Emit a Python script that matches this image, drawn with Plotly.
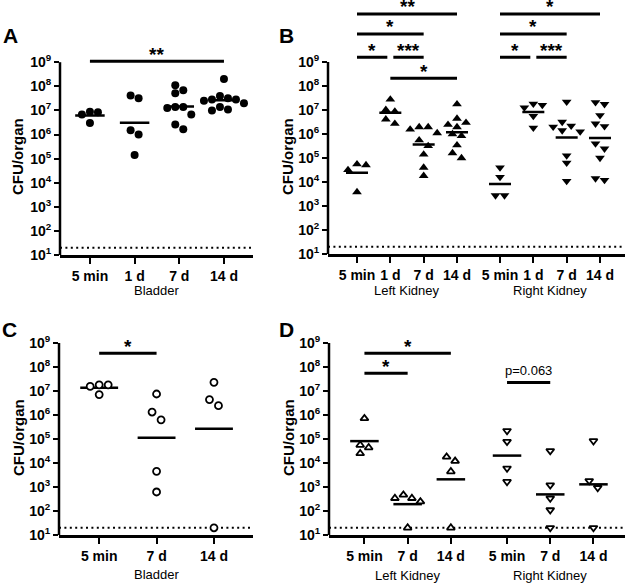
import numpy as np
import plotly.graph_objects as go

# ------------------------------------------------------------------ data
bladder_cats_AB = ["5 min", "1 d", "7 d", "14 d"]
bladder_cats_C = ["5 min", "7 d", "14 d"]
kidney_cats_B = ["5 min", "1 d", "7 d", "14 d", "5 min", "1 d", "7 d", "14 d"]
kidney_cats_D = ["5 min", "7 d", "14 d", "5 min", "7 d", "14 d"]
ytick_powers = [1, 2, 3, 4, 5, 6, 7, 8, 9]
DETECTION_LIMIT = 20

# Panel A – bladder (CFU/organ)
A_5min = [8.7e6, 6.8e6, 8.3e6, 3.0e6]
A_1d = [4.2e7, 3.2e7, 1.5e6, 1.0e6, 1.4e5]
A_7d = [1.1e8, 6.9e7, 5.1e7, 1.26e7, 1.4e7, 1.4e7, 6.8e6, 2.6e6, 1.66e6]
A_14d = [2.0e8, 4.0e7, 2.5e7, 2.8e7, 3.2e7, 2.8e7, 2.0e7, 1.0e7, 1.1e7, 1.4e7]

# Panel B – kidneys
B_LK_5min = [5.5e4, 3.2e4, 5.1e4, 3.8e3]
B_LK_1d = [2.75e7, 8.7e6, 1.02e7, 2.7e6, 4.1e6]
B_LK_7d = [1.95e6, 1.95e6, 1.55e6, 1.1e6, 5.5e5, 3.2e5, 1.4e5, 4.0e4, 1.8e4]
B_LK_14d = [1.74e7, 2.45e6, 4.4e6, 2.95e6, 1.95e6, 1.0e6, 8.3e5, 3.4e5, 1.6e5, 1.0e5]
B_RK_5min = [4.0e4, 1.6e4, 2.75e3, 2.75e3]
B_RK_1d = [1.6e7, 1.8e7, 1.26e7, 5.6e6, 1.8e6]
B_RK_7d = [2.2e7, 3.2e6, 2.2e6, 2.0e6, 1.4e6, 1.26e6, 1.26e5, 6.3e4, 1.1e4]
B_RK_14d = [2.1e7, 1.74e7, 6.0e6, 2.7e6, 2.1e6, 4.0e5, 2.45e5, 1.0e5, 1.2e4, 1.4e4]

# Panel C – bladder
C_5min = [1.8e7, 1.55e7, 1.8e7, 7.1e6]
C_7d = [7.5e6, 1.33e6, 6.3e5, 4.5e3, 6.2e2]
C_14d = [2.3e7, 4.4e6, 2.45e6, 20]

# Panel D – kidneys
D_LK_5min = [7.2e5, 5.6e4, 2.5e4, 4.4e4]
D_LK_7d = [470, 340, 340, 245, 20]
D_LK_14d = [1.2e4, 1.8e4, 4.4e3, 20]
D_RK_5min = [2.2e5, 7.8e4, 6.0e3, 1.66e3]
D_RK_7d = [3.2e4, 1.2e3, 340, 110, 20]
D_RK_14d = [8.3e4, 1.8e3, 930, 20]

# significance comparisons: (group i, group j, label)
comps_A = [(0, 3, "**")]
comps_B = [(0, 3, "**"), (0, 2, "*"), (0, 1, "*"), (1, 2, "***"), (1, 3, "*"),
           (4, 7, "*"), (4, 6, "*"), (4, 5, "*"), (5, 6, "***")]
comps_C = [(0, 1, "*")]
comps_D = [(0, 2, "*"), (0, 1, "*"), (3, 4, "p=0.063")]

# ------------------------------------------------------------------ layout constants
W, H = 625, 583
FONT = "Liberation Sans, Arial, Helvetica, sans-serif"
HALF = 0.33  # half-width of mean line in category units

panels = [
    dict(ax="", left=60, right=253, bottom=255, decade=24.1, ytop=11.4,
         xrange=[-0.67, 3.65], pos=[0, 1, 2, 3], ticktext=bladder_cats_AB,
         groups=[A_5min, A_1d, A_7d, A_14d], symbols=["circle"] * 4,
         filled=True, size=8, lw=0, w=8, h=8,
         titles=[("Bladder", [0, 1, 2, 3])],
         comps=comps_A, levels=[9.04],
         letter="A", letter_xy=(10, 36), ytitle_xy=(18, 157), xtitle_y=291),
    dict(ax="2", left=328, right=625, bottom=254, decade=24.0, ytop=11.4,
         xrange=[-0.87, 8.04], pos=[0, 1, 2, 3, 4.29, 5.29, 6.29, 7.29],
         ticktext=kidney_cats_B,
         groups=[B_LK_5min, B_LK_1d, B_LK_7d, B_LK_14d,
                 B_RK_5min, B_RK_1d, B_RK_7d, B_RK_14d],
         symbols=["triangle-up"] * 4 + ["triangle-down"] * 4,
         filled=True, size=8.5, lw=0, w=9, h=6.5,
         titles=[("Left Kidney", [0, 1, 2, 3]), ("Right Kidney", [4, 5, 6, 7])],
         comps=comps_B, levels=[11.0, 10.17, 9.2, 9.2, 8.32, 11.0, 10.17, 9.2, 9.2],
         letter="B", letter_xy=(286, 36), ytitle_xy=(288, 157), xtitle_y=291),
    dict(ax="3", left=59, right=253, bottom=535, decade=24.0, ytop=9.0,
         xrange=[-0.70, 2.68], pos=[0, 1, 2], ticktext=bladder_cats_C,
         groups=[C_5min, C_7d, C_14d], symbols=["circle"] * 3,
         filled=False, size=7, lw=1.8, w=9, h=9,
         titles=[("Bladder", [0, 1, 2])],
         comps=comps_C, levels=[8.57],
         letter="C", letter_xy=(9, 329), ytitle_xy=(18, 438), xtitle_y=574),
    dict(ax="4", left=329, right=625, bottom=535, decade=24.0, ytop=9.0,
         xrange=[-0.82, 6.03], pos=[0, 1, 2, 3.3, 4.3, 5.3], ticktext=kidney_cats_D,
         groups=[D_LK_5min, D_LK_7d, D_LK_14d, D_RK_5min, D_RK_7d, D_RK_14d],
         symbols=["triangle-up"] * 3 + ["triangle-down"] * 3,
         filled=False, size=7, lw=1.8, w=8.5, h=7,
         titles=[("Left Kidney", [0, 1, 2]), ("Right Kidney", [3, 4, 5])],
         comps=comps_D, levels=[8.57, 7.74, 7.35],
         letter="D", letter_xy=(286, 329), ytitle_xy=(288, 438), xtitle_y=575),
]


def swarm(vals, ppu, ppd, w, h):
    """Beeswarm horizontal offsets (category units) computed from the values."""
    ly = np.log10(np.asarray(vals, float)) * ppd
    n = len(ly)
    order = np.argsort(-ly, kind="stable")
    off = np.zeros(n)
    placed = []
    seq = [0]
    for k in range(1, 12):
        seq += [k, -k]
    for i in order:
        for k in seq:
            x = k * w
            if all(((x - off[j]) / w) ** 2 + ((ly[i] - ly[j]) / h) ** 2 >= 0.98
                   for j in placed):
                break
        off[i] = x
        placed.append(i)
    # centre clusters of overlapping rows
    parent = list(range(n))

    def find(a):
        while parent[a] != a:
            parent[a] = parent[parent[a]]
            a = parent[a]
        return a
    for i in range(n):
        for j in range(i + 1, n):
            if abs(ly[i] - ly[j]) < h:
                parent[find(i)] = find(j)
    clusters = {}
    for i in range(n):
        clusters.setdefault(find(i), []).append(i)
    for members in clusters.values():
        xs = off[members]
        off[members] -= (xs.min() + xs.max()) / 2
    return off / ppu


fig = go.Figure()
annotations = []
shapes = []
layout = {}

for p in panels:
    xa, ya = "x" + p["ax"], "y" + p["ax"]
    top = p["bottom"] - (p["ytop"] - 1) * p["decade"]
    ppu = (p["right"] - p["left"]) / (p["xrange"][1] - p["xrange"][0])

    layout["xaxis" + p["ax"]] = dict(
        domain=[p["left"] / W, p["right"] / W], range=p["xrange"], anchor=ya,
        tickmode="array", tickvals=p["pos"], ticktext=p["ticktext"],
        showline=True, linewidth=2.5, linecolor="black", ticks="outside",
        ticklen=6, tickwidth=2, tickcolor="black", showgrid=False, zeroline=False,
        tickfont=dict(family=FONT, size=14, color="black", weight="bold"),
        automargin=False, fixedrange=True)
    layout["yaxis" + p["ax"]] = dict(
        domain=[1 - p["bottom"] / H, 1 - top / H], type="log",
        range=[1, p["ytop"]], anchor=xa,
        tickmode="array", tickvals=[10 ** k for k in ytick_powers],
        ticktext=["10<sup>%d</sup>" % k for k in ytick_powers],
        showline=False, ticks="outside", ticklen=5, tickwidth=2, tickcolor="black",
        showgrid=False, zeroline=False,
        tickfont=dict(family=FONT, size=14, color="black", weight="bold"),
        automargin=False, fixedrange=True)
    # y axis line up to 10^9 only
    shapes.append(dict(type="line", xref=xa + " domain", yref=ya + " domain",
                       x0=0, x1=0, y0=0, y1=(9 - 1) / (p["ytop"] - 1),
                       line=dict(color="black", width=2.5)))

    # detection limit
    fig.add_trace(go.Scatter(x=p["xrange"], y=[DETECTION_LIMIT] * 2, mode="lines",
                             xaxis=xa, yaxis=ya, hoverinfo="skip",
                             line=dict(color="black", width=2, dash="2px,3.4px")))

    # geometric means
    mx, my = [], []
    for pos, vals in zip(p["pos"], p["groups"]):
        gm = 10 ** np.mean(np.log10(vals))
        mx += [pos - HALF, pos + HALF, None]
        my += [gm, gm, None]
    fig.add_trace(go.Scatter(x=mx, y=my, mode="lines", xaxis=xa, yaxis=ya,
                             line=dict(color="black", width=2.5), hoverinfo="skip"))

    # points
    for pos, vals, sym in zip(p["pos"], p["groups"], p["symbols"]):
        off = swarm(vals, ppu, p["decade"], p["w"], p["h"])
        marker = dict(symbol=sym, size=p["size"])
        if p["filled"]:
            marker.update(color="black", line=dict(width=0))
        else:
            marker.update(color="white", line=dict(color="black", width=p["lw"]))
        fig.add_trace(go.Scatter(x=pos + off, y=vals, mode="markers", xaxis=xa,
                                 yaxis=ya, marker=marker, cliponaxis=False))

    # significance bars
    bx, by = [], []
    comps = p["comps"]
    for idx, ((i, j, lab), lev) in enumerate(zip(comps, p["levels"])):
        x0, x1 = p["pos"][i], p["pos"][j]
        for jdx, ((i2, j2, _), lev2) in enumerate(zip(comps, p["levels"])):
            if jdx != idx and lev2 == lev:
                if i2 == j:
                    x1 -= 0.09
                if j2 == i:
                    x0 += 0.09
        bx += [x0, x1, None]
        by += [10 ** lev, 10 ** lev, None]
        is_p = lab.startswith("p")
        annotations.append(dict(
            x=(x0 + x1) / 2, y=lev, xref=xa, yref=ya, text=lab, showarrow=False,
            xanchor="center", yanchor="middle", yshift=12 if is_p else 7,
            font=dict(family=FONT, size=13 if is_p else 19, color="black",
                      weight="normal" if is_p else "bold")))
    fig.add_trace(go.Scatter(x=bx, y=by, mode="lines", xaxis=xa, yaxis=ya,
                             line=dict(color="black", width=3), hoverinfo="skip"))

    # group titles
    for txt, idxs in p["titles"]:
        annotations.append(dict(
            x=float(np.mean([p["pos"][k] for k in idxs])), xref=xa,
            y=1 - p["xtitle_y"] / H, yref="paper", text=txt, showarrow=False,
            xanchor="center", yanchor="middle",
            font=dict(family=FONT, size=13, color="black")))
    # y title
    annotations.append(dict(
        x=p["ytitle_xy"][0] / W, y=1 - p["ytitle_xy"][1] / H, xref="paper",
        yref="paper", text="CFU/organ", textangle=-90, showarrow=False,
        xanchor="center", yanchor="middle",
        font=dict(family=FONT, size=15, color="black", weight="bold")))
    # panel letter
    annotations.append(dict(
        x=p["letter_xy"][0] / W, y=1 - p["letter_xy"][1] / H, xref="paper",
        yref="paper", text=p["letter"], showarrow=False, xanchor="center",
        yanchor="middle", font=dict(family=FONT, size=21, color="black",
                                    weight="bold")))

fig.update_layout(
    width=W, height=H, margin=dict(l=0, r=0, t=0, b=0, autoexpand=False),
    paper_bgcolor="white", plot_bgcolor="white", showlegend=False,
    annotations=annotations, shapes=shapes, **layout)

fig.write_html("out.html", config={"displayModeBar": False},
               post_script="document.body.style.margin='0';")
